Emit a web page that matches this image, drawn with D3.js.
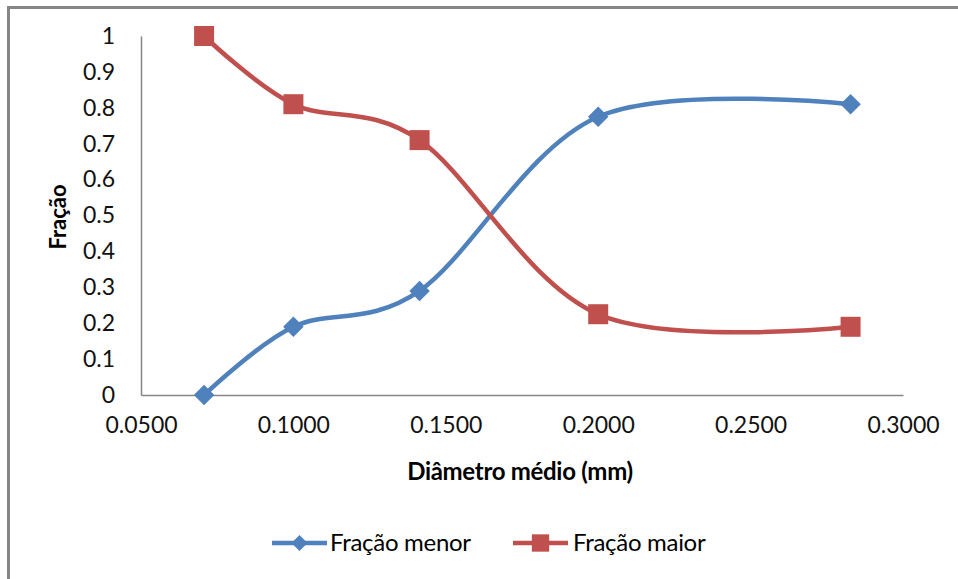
<!DOCTYPE html>
<html>
<head>
<meta charset="utf-8">
<script src="https://cdn.jsdelivr.net/npm/d3@7"></script>
<style>
  html, body { margin: 0; padding: 0; background: #fff; }
  svg { display: block; font-family: Lato, "Open Sans", sans-serif; }
</style>
</head>
<body>
<div id="chart"></div>
<script>
// Data
const diametros = [0.0707, 0.1000, 0.1414, 0.2000, 0.2828];
const fracaoMenor = [0, 0.19, 0.29, 0.775, 0.81];
const fracaoMaior = [1, 0.81, 0.71, 0.225, 0.19];
const xTicks = [0.05, 0.10, 0.15, 0.20, 0.25, 0.30];
const yTicks = [0, 0.1, 0.2, 0.3, 0.4, 0.5, 0.6, 0.7, 0.8, 0.9, 1];
const seriesNames = ['Fração menor', 'Fração maior'];
const seriesColors = ['#4F81BD', '#C0504D'];

const W = 958, H = 579;
const plot = { left: 141, right: 903, top: 36, bottom: 395 };

const svg = d3.select('#chart').append('svg')
    .attr('width', W)
    .attr('height', H);

// chart frame (runs off the bottom/right like in the picture)
svg.append('rect')
    .attr('x', 8.5).attr('y', 7.5)
    .attr('width', W + 20).attr('height', H + 20)
    .attr('fill', 'none')
    .attr('stroke', '#868686')
    .attr('stroke-width', 3);

const x = d3.scaleLinear().domain([0.05, 0.30]).range([plot.left, plot.right]);
const y = d3.scaleLinear().domain([0, 1]).range([plot.bottom, plot.top]);

// axes
const xAxis = svg.append('g')
    .attr('transform', `translate(0,${plot.bottom})`)
    .call(d3.axisBottom(x).tickValues(xTicks).tickSize(0).tickPadding(22)
        .tickFormat(d3.format('.4f')));
xAxis.select('.domain').attr('stroke', '#868686').attr('stroke-width', 1.5);
xAxis.selectAll('text').attr('font-size', 23).attr('fill', '#111')
    .attr('font-family', 'Lato, sans-serif');

const yAxis = svg.append('g')
    .attr('transform', `translate(${plot.left},0)`)
    .call(d3.axisLeft(y).tickValues(yTicks).tickSize(0).tickPadding(26)
        .tickFormat(d => d3.format('')(+d.toFixed(1))));
yAxis.select('.domain').attr('stroke', '#868686').attr('stroke-width', 1.5);
yAxis.selectAll('text').attr('font-size', 23).attr('fill', '#111')
    .attr('font-family', 'Lato, sans-serif');

// axis titles
svg.append('text')
    .attr('x', 520).attr('y', 480)
    .attr('text-anchor', 'middle')
    .attr('font-size', 24).attr('font-weight', 'bold')
    .attr('letter-spacing', -0.3)
    .text('Diâmetro médio (mm)');

svg.append('text')
    .attr('transform', 'translate(66,217) rotate(-90)')
    .attr('text-anchor', 'middle')
    .attr('font-size', 22).attr('font-weight', 'bold')
    .text('Fração');

// series
const line = d3.line()
    .x(d => x(d[0]))
    .y(d => y(d[1]))
    .curve(d3.curveCardinal.tension(0));

const series = [fracaoMenor, fracaoMaior].map(vals => diametros.map((d, i) => [d, vals[i]]));

series.forEach((pts, s) => {
    svg.append('path')
        .datum(pts)
        .attr('d', line)
        .attr('fill', 'none')
        .attr('stroke', seriesColors[s])
        .attr('stroke-width', 4.5);
});

const square = d3.symbol().type(d3.symbolSquare).size(400);

svg.selectAll('.pt-menor')
    .data(series[0])
    .enter().append('path')
    .attr('class', 'pt-menor')
    .attr('transform', d => `translate(${x(d[0])},${y(d[1])}) rotate(45)`)
    .attr('d', d3.symbol().type(d3.symbolSquare).size(210))
    .attr('fill', seriesColors[0]);

svg.selectAll('.pt-maior')
    .data(series[1])
    .enter().append('path')
    .attr('class', 'pt-maior')
    .attr('transform', d => `translate(${x(d[0])},${y(d[1])})`)
    .attr('d', square)
    .attr('fill', seriesColors[1]);

// legend
const legendItems = [
    { x: 272, textX: 330, marker: 'diamond' },
    { x: 513, textX: 573, marker: 'square' }
];
legendItems.forEach((item, i) => {
    const g = svg.append('g');
    g.append('line')
        .attr('x1', item.x).attr('x2', item.x + 55)
        .attr('y1', 543).attr('y2', 543)
        .attr('stroke', seriesColors[i]).attr('stroke-width', 4.5);
    const cx = item.x + 27.5;
    if (item.marker === 'diamond') {
        g.append('path')
            .attr('transform', `translate(${cx},543) rotate(45)`)
            .attr('d', d3.symbol().type(d3.symbolSquare).size(130))
            .attr('fill', seriesColors[i]);
    } else {
        g.append('path')
            .attr('transform', `translate(${cx},543)`)
            .attr('d', d3.symbol().type(d3.symbolSquare).size(300))
            .attr('fill', seriesColors[i]);
    }
    g.append('text')
        .attr('x', item.textX).attr('y', 551)
        .attr('font-size', 24)
        .attr('letter-spacing', -0.3)
        .text(seriesNames[i]);
});
</script>
</body>
</html>
